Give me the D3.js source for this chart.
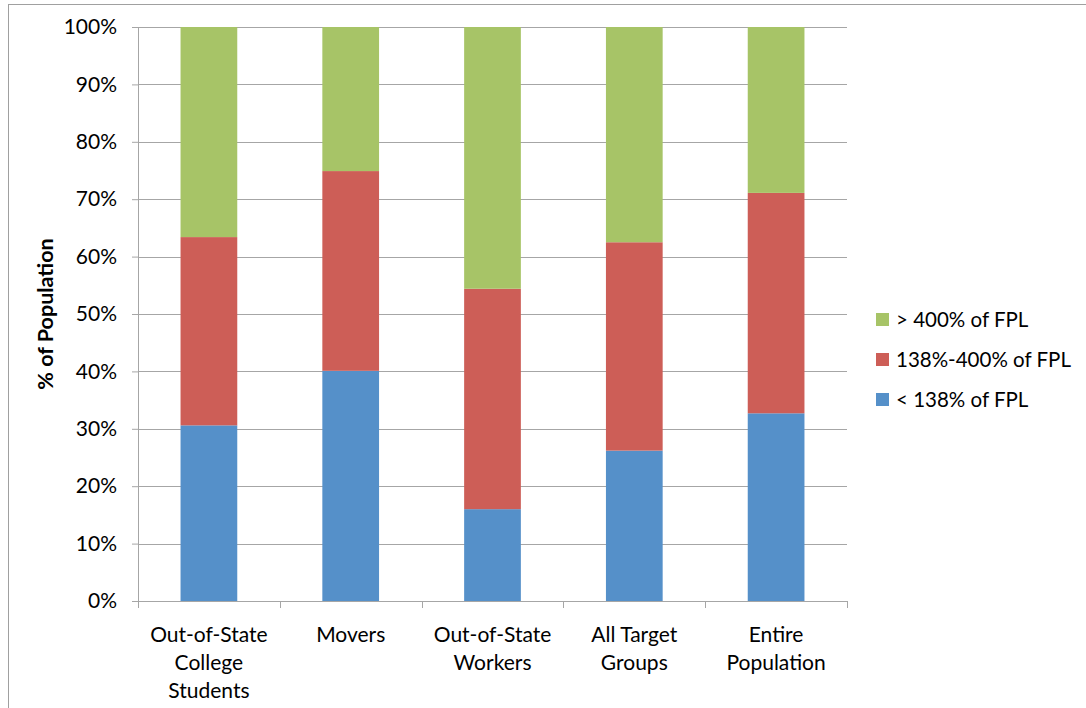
<!DOCTYPE html>
<html>
<head>
<meta charset="utf-8">
<script src="https://cdn.jsdelivr.net/npm/d3@7"></script>
<style>
  body { margin: 0; background: #fff; }
  text { font-family: Lato, "Open Sans", sans-serif; fill: #000; }
</style>
</head>
<body>
<div id="chart-area"></div>
<script>
// data (percent of population)
var groups = ["Out-of-State College Students", "Movers", "Out-of-State Workers", "All Target Groups", "Entire Population"];
var groupLines = [["Out-of-State", "College", "Students"], ["Movers"], ["Out-of-State", "Workers"], ["All Target", "Groups"], ["Entire", "Population"]];
var seriesNames = ["< 138% of FPL", "138%-400% of FPL", "> 400% of FPL"];
var below138 = [30.6, 40.1, 16.0, 26.2, 32.7];
var mid138to400 = [32.8, 34.8, 38.4, 36.3, 38.4];
var above400 = [36.6, 25.1, 45.6, 37.5, 28.9];
var yTicks = [0, 10, 20, 30, 40, 50, 60, 70, 80, 90, 100];
var colors = ["#5590C9", "#CD5E57", "#A7C467"];

var W = 1086, H = 708;
var margin = {left: 138, right: 239, top: 27, bottom: 107};
var width = W - margin.left - margin.right;
var height = H - margin.top - margin.bottom;

var svg = d3.select("#chart-area").append("svg")
    .attr("width", W)
    .attr("height", H);

// outer frame
svg.append("rect")
    .attr("x", 8.5).attr("y", 4.5)
    .attr("width", W - 6).attr("height", H)
    .attr("fill", "none")
    .attr("stroke", "#a0a0a0");

var g = svg.append("g")
    .attr("transform", "translate(" + margin.left + "," + margin.top + ")");

var x = d3.scaleBand()
    .domain(groups)
    .range([0, width])
    .paddingInner(0.6)
    .paddingOuter(0.3);

var y = d3.scaleLinear()
    .domain([0, 100])
    .range([height, 0]);

// gridlines
g.selectAll(".grid")
    .data(yTicks.filter(function(d){ return d > 0; }))
    .enter().append("line")
    .attr("class", "grid")
    .attr("x1", 0).attr("x2", width)
    .attr("y1", function(d){ return Math.round(y(d)) + 0.5; })
    .attr("y2", function(d){ return Math.round(y(d)) + 0.5; })
    .attr("stroke", "#a6a6a6")
    .attr("stroke-width", 1.2);

// stacked bars
var table = groups.map(function(name, i){
    return {group: name, s0: below138[i], s1: mid138to400[i], s2: above400[i]};
});
var stack = d3.stack().keys(["s0", "s1", "s2"]);
var layers = stack(table);

g.selectAll(".layer")
    .data(layers)
    .enter().append("g")
    .attr("class", "layer")
    .attr("fill", function(d, i){ return colors[i]; })
    .selectAll("rect")
    .data(function(d){ return d; })
    .enter().append("rect")
    .attr("x", function(d){ return x(d.data.group); })
    .attr("y", function(d){ return y(d[1]); })
    .attr("width", x.bandwidth())
    .attr("height", function(d){ return y(d[0]) - y(d[1]); });

// y axis
var yAxisCall = d3.axisLeft(y)
    .tickValues(yTicks)
    .tickSize(6)
    .tickPadding(15)
    .tickFormat(function(d){ return d + "%"; });

var yAxis = g.append("g")
    .attr("class", "y axis")
    .call(yAxisCall);
yAxis.select(".domain").attr("stroke", "#a6a6a6").attr("d", "M-6,0.5H0.5V" + (height + 0.5));
yAxis.selectAll(".tick line").attr("stroke", "#a6a6a6");
yAxis.selectAll(".tick text")
    .attr("font-size", "21px")
    .attr("font-family", "Lato, sans-serif");

// x axis baseline and category boundary ticks
g.append("line")
    .attr("x1", 0).attr("x2", width)
    .attr("y1", height + 0.5).attr("y2", height + 0.5)
    .attr("stroke", "#a6a6a6").attr("stroke-width", 1.2);
var bounds = d3.range(groups.length + 1).map(function(i){ return width * i / groups.length; });
g.selectAll(".xtick")
    .data(bounds)
    .enter().append("line")
    .attr("class", "xtick")
    .attr("x1", function(d){ return Math.round(d) + 0.5; })
    .attr("x2", function(d){ return Math.round(d) + 0.5; })
    .attr("y1", height).attr("y2", height + 7)
    .attr("stroke", "#a6a6a6");

// x labels
var xl = g.selectAll(".xlabel")
    .data(groups)
    .enter().append("text")
    .attr("class", "xlabel")
    .attr("text-anchor", "middle")
    .attr("font-size", "21px")
    .attr("transform", function(d){ return "translate(" + (x(d) + x.bandwidth() / 2) + "," + (height + 41) + ")"; });
xl.selectAll("tspan")
    .data(function(d, i){ return groupLines[i]; })
    .enter().append("tspan")
    .attr("x", 0)
    .attr("y", function(d, i){ return i * 28; })
    .text(function(d){ return d; });

// y label
svg.append("text")
    .attr("transform", "translate(53," + (margin.top + height / 2) + ") rotate(-90)")
    .attr("text-anchor", "middle")
    .attr("font-size", "21.5px")
    .attr("font-weight", "bold")
    .text("% of Population");

// legend (top to bottom: > 400, 138-400, < 138)
var legendOrder = [2, 1, 0];
var legend = svg.selectAll(".legend")
    .data(legendOrder)
    .enter().append("g")
    .attr("class", "legend")
    .attr("transform", function(d, i){ return "translate(876," + (313 + i * 40) + ")"; });
legend.append("rect")
    .attr("width", 13).attr("height", 13)
    .attr("fill", function(d){ return colors[d]; });
legend.append("text")
    .attr("x", 20).attr("y", 14)
    .attr("font-size", "20.5px")
    .text(function(d){ return seriesNames[d]; });
</script>
</body>
</html>
